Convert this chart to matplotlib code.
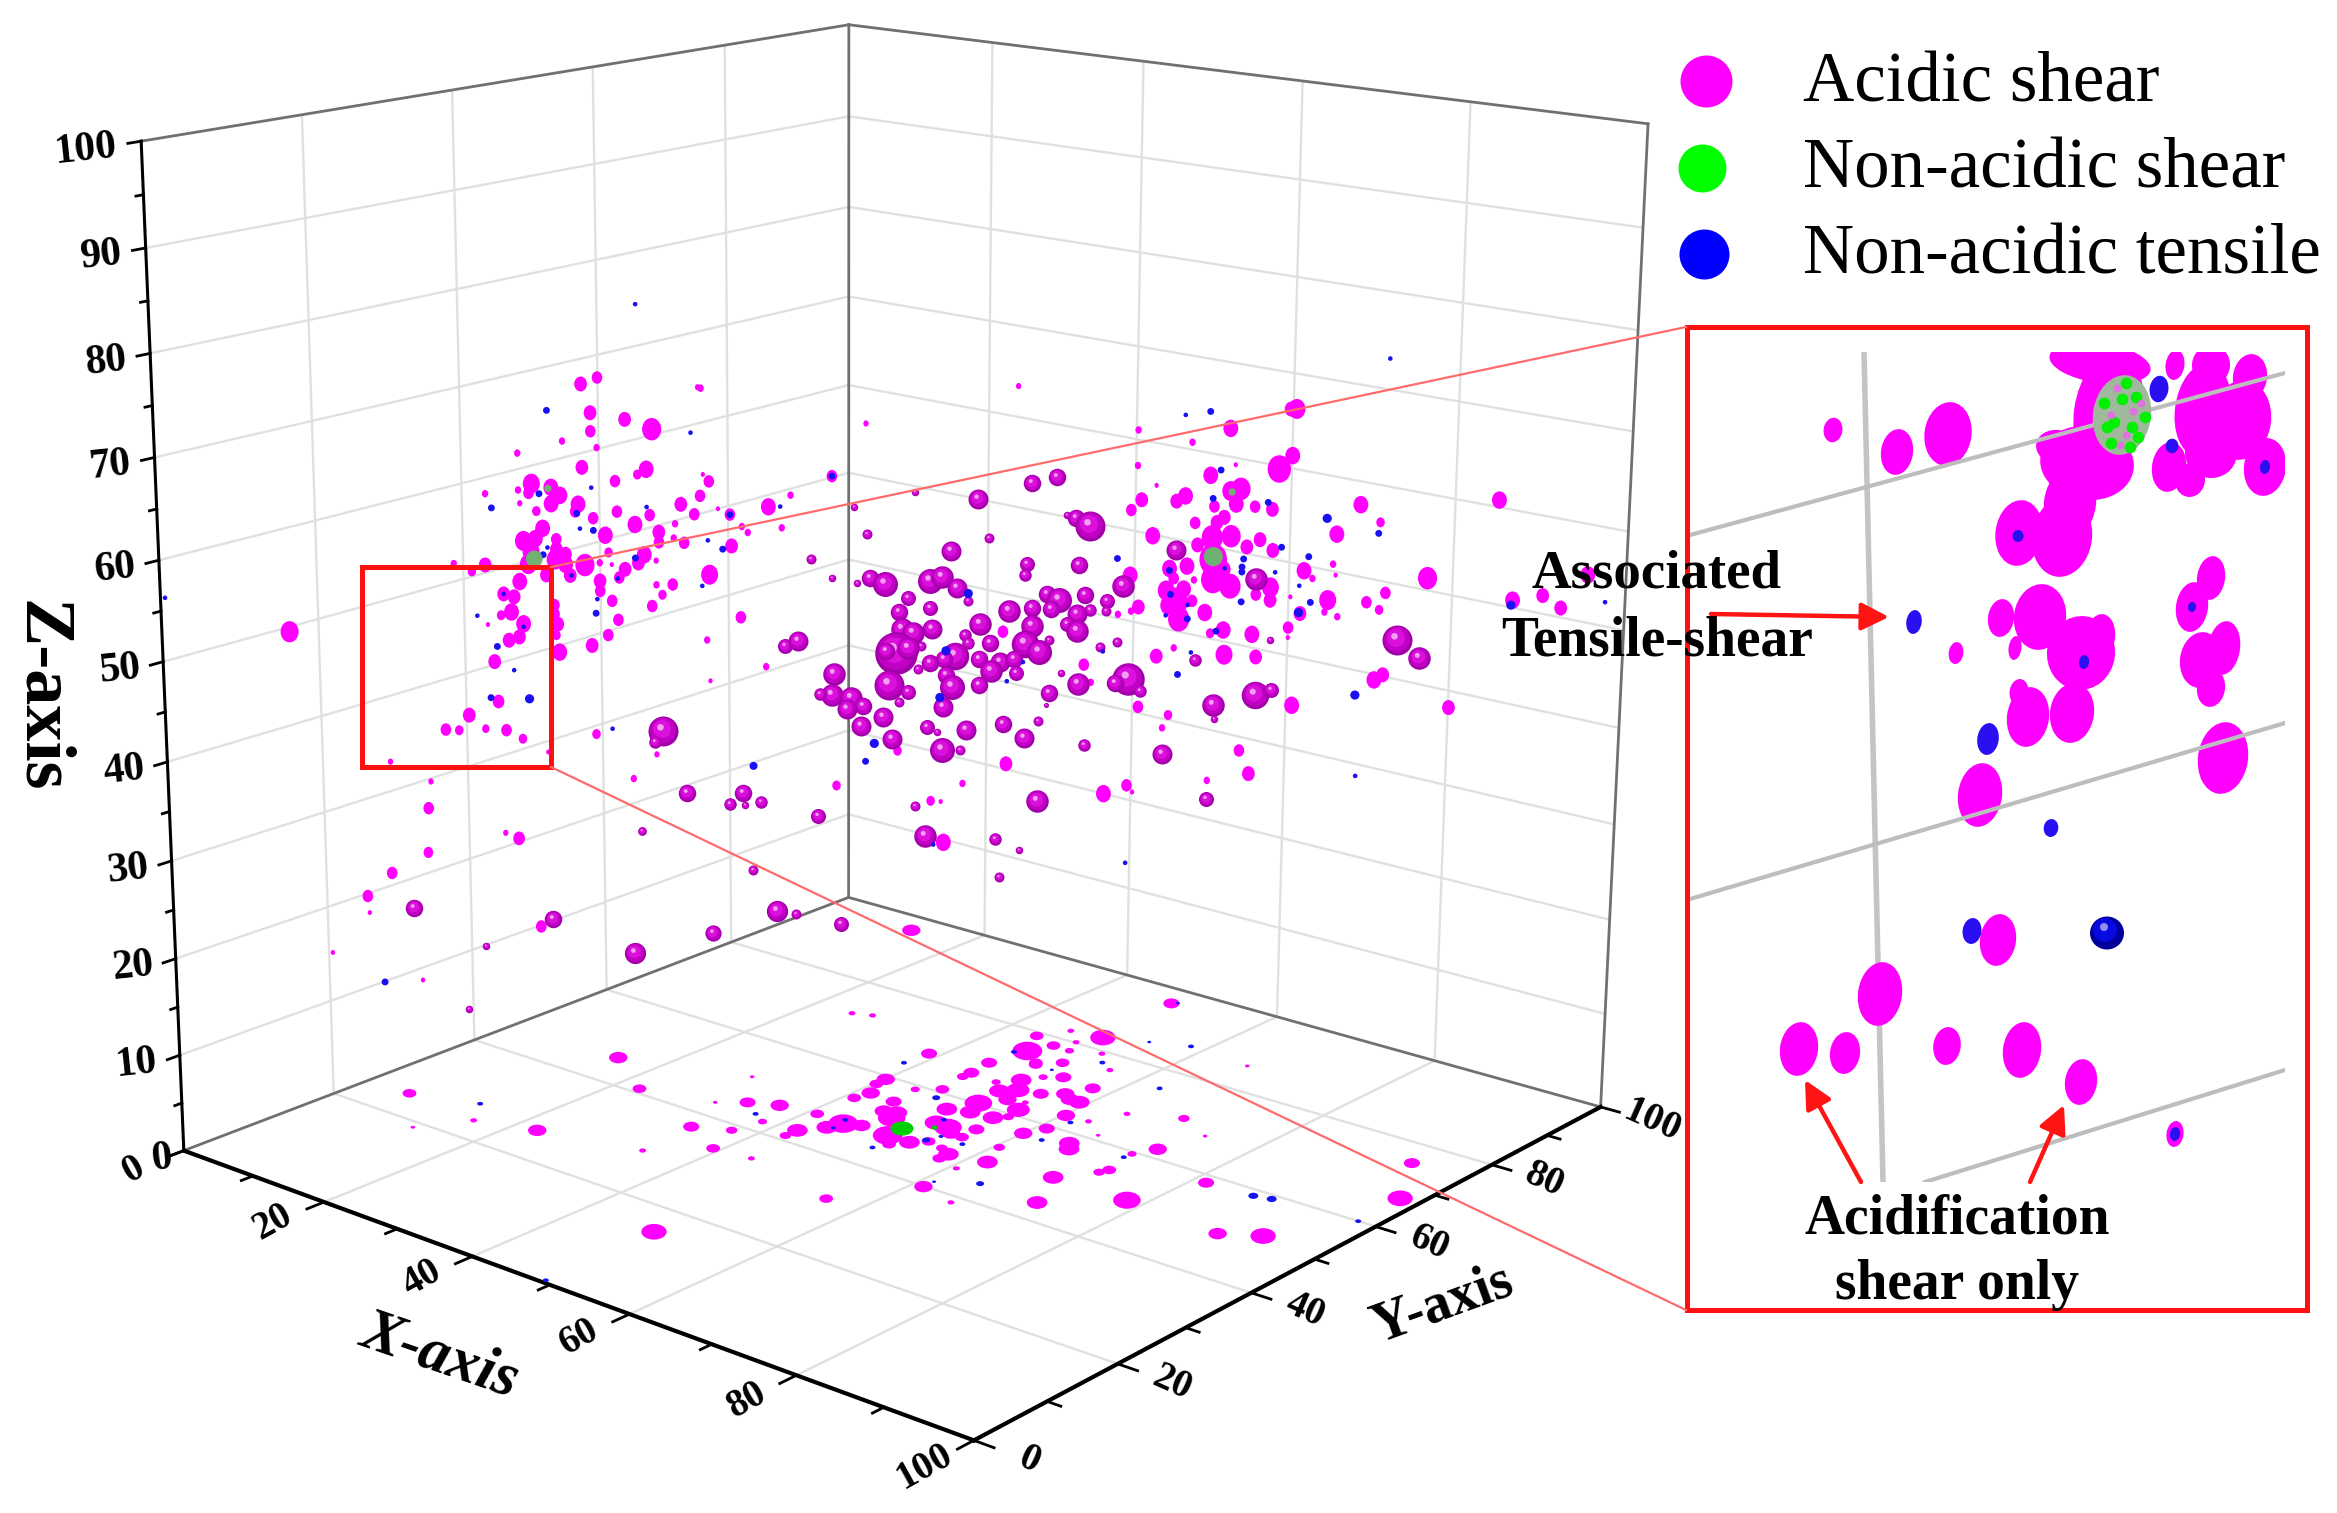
import matplotlib
matplotlib.use('Agg')
import matplotlib.pyplot as plt
from matplotlib.markers import MarkerStyle
from matplotlib.patches import Ellipse, Rectangle
from matplotlib.transforms import Affine2D
from mpl_toolkits.mplot3d import proj3d

W, H = 2337, 1513
SERIF = 'Liberation Serif'

# one view gives no depth, so the events are read on the diagonal plane x = y
# flat magenta events (x, z, marker radius)
flat_x = [8.5,28.3,29.4,28.9,28.9,31.2,33.0,27.0,29.3,24.0,
          28.3,32.6,32.0,30.5,24.9,24.7,26.2,26.8,26.2,24.0,
          21.8,24.1,28.0,27.8,25.2,30.6,34.9,29.0,32.8,31.8,
          35.8,36.2,25.6,25.1,24.3,24.8,26.5,26.5,29.8,33.4,
          33.4,34.5,35.1,34.4,26.4,27.1,27.1,28.4,30.0,32.4,
          32.0,31.1,30.7,29.4,29.4,29.4,30.2,33.2,27.4,25.8,
          24.6,24.0,23.6,22.9,23.4,22.7,24.2,23.9,23.2,22.2,
          26.3,26.3,26.5,26.4,26.6,28.8,29.9,30.6,30.2,32.9,
          33.6,34.3,33.2,20.8,21.7,19.6,21.8,36.3,36.4,
          22.4,20.4,18.8,19.7,21.5,22.9,24.0,25.7,15.0,17.7,
          17.5,17.4,14.9,13.2,13.3,22.7,23.6,29.0,33.1,31.5,
          25.0,10.7,16.8,45.4,45.1,38.2,40.8,42.3,37.4,36.8,
          39.0,39.4,41.7,38.3,36.8,38.9,36.6,40.6,36.8,49.6,
          57.1,56.8,62.4,62.9,66.2,68.3,67.9,65.5,65.9,63.9,
          54.1,67.4,65.5,66.1,65.6,64.7,
          76.7,76.3,72.2,69.6,65.9,65.9,67.2,72.6,70.9,75.6,
          76.5,69.2,68.6,66.2,65.5,67.0,72.3,73.0,72.7,71.2,
          74.0,75.2,71.9,71.4,69.9,71.1,72.4,70.1,73.5,74.4,
          75.3,71.2,69.4,68.2,71.2,72.4,71.9,75.2,74.2,75.2,
          68.5,69.9,68.0,69.2,68.7,68.2,68.9,69.8,70.7,77.5,
          78.1,79.5,79.7,79.2,79.0,79.9,77.3,76.6,81.9,82.8,
          83.2,86.1,81.3,82.7,79.7,90.9,92.1,94.2,95.5,97.3,
          76.5,76.5,74.0,72.0,71.1,72.1,74.3,68.6,76.9,87.9,
          82.6,83.2,73.3,57.7,47.4,36.1,51.9,52.6,71.1,74.0,
          52.8]
flat_z = [52.7,76.4,77.0,73.6,71.8,72.9,71.9,70.9,70.2,69.8,
          68.3,68.0,67.5,66.9,66.8,65.9,66.4,65.6,64.8,66.2,
          65.9,64.9,64.7,64.0,64.1,63.9,64.5,63.3,63.5,62.6,
          63.5,65.3,62.4,61.4,61.2,60.1,61.3,60.3,61.6,61.8,
          60.8,62.6,60.7,61.2,59.3,59.8,58.8,58.7,59.9,59.6,
          58.8,58.2,57.4,58.9,57.1,56.1,58.7,59.0,57.7,57.8,
          58.9,57.2,55.7,56.0,54.2,53.9,53.0,51.7,51.4,49.3,
          54.8,53.9,52.9,51.8,50.1,50.7,51.7,53.2,55.1,54.5,
          55.6,56.6,56.6,58.3,58.9,59.1,53.0,75.8,67.4,
          45.3,44.0,42.6,42.5,42.6,42.4,41.5,40.1,39.5,37.4,
          34.7,30.2,28.2,25.9,24.2,32.0,31.4,41.8,39.6,37.2,
          22.3,20.2,17.1,36.0,67.0,63.4,64.1,65.2,64.0,66.7,
          62.2,61.6,62.0,60.3,57.5,53.2,51.0,48.2,46.9,39.4,
          37.8,51.2,47.7,45.9,43.3,42.4,41.1,35.3,34.6,34.5,
          35.9,48.4,56.6,53.4,53.0,52.7,
          72.8,72.8,71.0,69.7,71.0,67.5,65.5,67.4,66.4,66.9,
          68.2,64.4,63.9,64.1,63.1,60.5,64.8,65.0,63.5,63.3,
          63.2,62.9,62.2,61.7,61.7,60.2,60.3,59.5,59.2,59.9,
          58.8,58.0,57.4,57.2,56.0,55.3,57.0,55.1,54.4,53.8,
          56.2,56.0,55.0,55.1,53.9,53.5,52.1,53.9,52.7,56.7,
          55.9,57.3,56.2,53.7,52.5,52.0,52.4,54.1,53.4,52.6,
          54.3,55.7,63.2,61.4,60.3,63.4,53.3,53.7,52.4,55.7,
          51.0,50.0,50.4,50.9,50.6,48.4,48.1,49.2,43.1,42.5,
          45.5,46.0,38.6,75.5,72.1,75.9,34.2,34.1,35.6,36.2,
          29.9]
flat_r = [8.5,6,5,6,5,6,9,3,3,3,
          6,7,4,5,8,5,7,7,7,3,
          3,2.5,7,5,4,5,6,5,5,7,
          5,5,7,7,8,8,5,6,7,6,
          5,3,5,3,8,6,7,9,4,7,
          6,6,5,3,6,5,2,2.5,6,6,
          8,7,6,6,7,4,7,6,6,6,
          5,5,6,4,7,6,5,5,5,5,
          4,5,3,4,6,3,2,3,2,
          5.5,6,5,4,3.5,5,4,2,2.5,2.5,
          5,4.5,5,5,2,2.5,5.5,4,2.5,3,
          5,2,2,4,5,5,7,3,2,5,
          3,3,3,6,8,5,3,3,2,4,
          6,5,5,3,5,4,3,5,2,7,
          3,6,7,6,3,3,
          8,6,7,3,3,3,2,2,7,11,
          7,7,6,6,5,7,8,9,7,5,
          5,6,6,6,5,10,9,6,6,6,
          6,13,7,7,11,10,7,8,5,6,
          5,3,8,7,11,8,10,5,7,7,
          3,3,2,8,3,3,6,2,5,4,
          5,9,7,4,7,7,7,6,6,7,
          5,2,7,7,4,8,6,3,7,6,
          7,6,5,2.5,2.5,2.5,4,2,3,6,
          7]

# shaded magenta events
ball_x = [33.5,33.0,16.3,25.8,21.2,19.9,32.0,35.1,39.0,38.1,
          40.2,39.1,44.1,39.6,41.3,42.6,31.4,36.8,45.7,58.7,
          60.4,55.0,50.7,46.6,61.7,62.7,61.1,55.8,47.5,53.2,
          43.7,45.1,58.4,58.3,62.0,47.7,48.7,46.8,51.8,52.6,
          53.6,50.3,54.4,51.8,49.7,57.2,58.8,59.8,60.6,60.1,
          62.4,65.0,63.9,63.9,62.8,61.9,61.2,61.9,58.8,55.2,
          51.9,49.9,50.6,54.2,54.4,55.9,58.3,59.3,60.0,64.7,
          63.5,51.2,49.5,48.8,50.3,53.5,52.8,51.8,51.0,55.2,
          56.6,57.6,56.0,57.7,45.2,52.9,53.3,55.2,49.0,50.3,
          45.1,44.3,46.4,47.2,46.1,49.7,48.6,52.7,60.0,62.0,
          65.5,64.6,66.3,60.8,59.8,47.1,51.6,52.3,54.3,56.9,
          59.3,49.2,58.3,52.7,53.9,62.5,67.9,41.9,42.8,70.1,
          68.6,74.2,75.3,84.1,85.7,74.3,75.4,71.4,71.5,59.3,
          50.8,71.1,51.5,56.4,58.1,56.7]
ball_z = [42.0,40.9,24.5,23.0,20.4,14.0,31.8,35.6,35.5,34.4,
          34.5,34.2,32.9,27.5,23.2,22.9,19.3,21.1,21.7,66.0,
          66.5,64.5,65.3,63.9,62.4,61.6,62.7,60.6,61.2,59.4,
          58.9,56.9,57.9,56.8,57.7,56.8,56.2,56.4,56.4,56.8,
          55.7,54.8,54.4,53.7,53.4,53.3,53.5,54.9,54.3,53.4,
          54.7,55.5,54.1,53.1,53.2,52.8,51.8,51.1,51.7,52.0,
          51.6,51.7,51.3,51.0,50.1,50.1,49.9,49.1,50.3,49.9,
          49.5,49.9,49.3,49.5,49.8,48.9,48.6,48.2,47.6,48.5,
          48.2,48.4,47.3,47.0,47.3,47.0,45.7,45.9,46.1,45.3,
          45.2,45.3,44.9,44.0,43.8,44.3,42.9,43.7,44.9,45.8,
          46.1,45.8,44.9,46.9,43.7,42.0,41.7,41.2,41.3,41.9,
          42.1,40.6,40.4,39.4,39.3,39.5,38.4,50.2,50.7,47.9,
          59.0,56.0,49.8,49.5,47.6,44.2,44.7,43.3,41.9,33.9,
          33.7,33.7,30.6,30.1,28.9,26.2]
ball_r = [12,5,7,7,3,3,3.5,7,7,5,
          5,3,6,4,8.5,4,8.5,6.5,6,7,
          7,8,3,3,7,12,3,4,4,8,
          4,3,6,5,7,7,10,3,10,9,
          8,6,4,6,7,9,7,7,10,7,
          7,9,6,4,5,8,6,9,9,9,
          8,9,9,5,5,7,11,10,4,4,
          4,4,17,7,9,11,7,7,4,7,
          8,7,9,6,9,7,10,7,12,6,
          9,5,9,7,8,4,8,8,7,9,
          13,7,5,3,2,8,6,3,8,7,
          4,8,8,10,4,5,8,6,8,5,
          8,9,3,12,9,11,6,9,3,9,
          4,6,9,5,3,4]

# non-acidic tensile events
blue_x = [26,35.6,28.9,25.4,22.2,27.9,32.6,28.1,29,25.9,
          25.6,31.8,27.5,30.6,22.9,29.2,29.1,21.1,24.2,22.4,
          23.5,36.3,21.9,24.5,30.1,39.7,14.2,36.7,37.7,41.6,
          45.1,38.2,64.6,54.4,52.9,58.2,57.1,52.5,48,47.4,
          63.7,69.8,68.9,69.1,70.8,71.6,71.1,74.9,79,82.6,
          75.9,77.8,73.3,73.2,73.2,75.5,72,77.2,68.3,68.2,
          73.2,78,69.5,69.5,68,77.2,71.5,81.3,92,81.5,
          52.1,65.5,0.3,32,83,98.6]
blue_z = [73.9,71.5,66.3,65.8,64.5,63.8,64.3,62.3,62.1,60.5,
          59.8,59.3,57.7,57.3,56,55.3,53.9,53.9,52.7,50.8,
          48.4,56.4,45.7,45.5,42.3,38.2,17,60.9,60,64.1,
          67,63.4,58.3,55.1,49.4,48.1,46.2,44.7,40.2,38.4,
          49,48.7,46.5,72.4,72.7,66.9,64.1,63.6,61.9,60.3,
          59.1,58.1,58,57.2,56.7,56.6,57.1,55.2,54.6,57,
          53.7,53.5,53.5,52.1,52.5,52.5,50.8,44,52.8,35.7,
          29.7,27.3,56.3,84,77.6,52.9]
blue_r = [3,2,2,3,3,3,2,2,3,2,
          3,3,2,2,2,2,3,2,2,3,
          2,2,3,4,2,3.5,3,2,3,2,
          3,3,3,4,4,2,2,4,4,3,
          2,2,3,2,3,3,3,3,4,3,
          3,3,3,3,3,2,2,2,3,3,
          3,3,2,3,2,4,3,4,4,2,
          2,2,2,2,2,2]

# non-acidic shear events
green_x = [25, 26, 71.2, 72.4]
green_z = [59.4, 66.3, 58.3, 64.7]
green_r = [7, 3, 8, 3]

# footprints on the floor, z = 0
floor_x = [48.9,5.8,15,22.7,38.8,22.7,16,12.7,33.7,31.1,
           33.6,36.6,37.4,38.2,29.2,34.3,39.2,43.8,56,42.4,
           42.4,41,44.1,44.7,46.4,41,41.4,40.2,40.1,44.2,
           46.3,44.7,45.6,46.9,47.4,50.1,51.7,52.9,54.2,51.6,
           53.3,54.5,56,50.1,56.3,57.8,57.8,55.8,62,60.7,
           61.2,65.7,69.3,72,78.2,89.6,93.2,97.9,93.8,81.4,
           72.3,71.9,71.5,72.7,65.1,66,60,61,60.5,52.4,
           51.5,55.1,56.1,55.7,53.1,51,52.3,50.8,49.2,54.7,
           55,56.6,57.9,59.1,57.8,53.6,52,49.2,45.2,48.9,
           51,45.6,45.6,56,60.3,64.7,63,69.8,66,74.2,
           66.1,44.1,49.7,45.9,47.2,48.4,49.4,46.1,52.5,12.7,
           24.9,27,49]
floor_y = [15.1,25,46,41,67.7,26.2,24,18.8,36.8,43.2,
           45.3,46.8,38.7,42.4,50.9,29.1,34,34.5,31.6,41.1,
           42.9,47.5,45.4,47.2,48,53.2,55.3,57.6,59.2,59,
           60.8,55,52.4,52.9,51.5,47.7,46,47.7,49.1,53.4,
           53.2,52.2,52.1,56.9,48.6,47.8,46.4,54.6,48.7,45.5,
           39.9,38.6,49.8,43.9,49.9,49,51.3,67.2,75.3,58.3,
           54.8,53.7,59.5,62.1,57.7,56.5,56.8,59.3,52.4,57.8,
           60.2,58.1,59.3,61.4,62.9,64.2,65.6,68,65.9,66.3,
           63.4,67.9,67,67,70.9,71.4,70.1,72.4,69.7,72.8,
           74.6,64.9,66.3,76.1,63.3,67.6,63.5,70.3,61.2,67.9,
           86.2,79,83.1,82.5,77.9,80.2,77.8,74.9,79.3,96,
           71.6,72.5,96]
floor_r = [11,6,8,6,7,8,3,2,7,2,
           7,8,5,4,2,3,6,3,6,5,
           9,6,9,13,8,6,8,6,8,4,
           6,7,8,9,12,13,6,9,6,10,
           12,8,6,9,5,9,6,7,9,3,
           8,3,9,9,12,8,11,11,7,7,
           6,5,4,8,9,9,8,7,5,9,
           12,9,5,10,8,9,10,9,4,7,
           3,8,8,9,7,7,4,6,7,6,
           6,5,7,3,8,3,3,5,2,2,
           2,6,11,3,6,3,4,13,3,8,
           3,3,7]
floor_blue_x = [13.3,36.3,47.3,44.7,44.2,51.7,54.3,53.8,51,57.2,
                61.8,51.4,63,71.4,64.9,61.2,62.5,86.8,88.6,98,
                49,38.5,45.2,54.1,54.2,58.3,49.5]
floor_blue_y = [27.6,43.5,58.6,45.7,48.1,54.5,50.9,49.2,44.3,50.7,
                62.1,72.3,75.3,58.3,44,41.5,56.6,58.6,59.1,60,
                0.5,64,73.8,77.3,85.2,87,96.5]
floor_blue_r = [3,3,4,2.5,3,3,2.5,4,3,3,
                3,2,3,3,4,2,3,5,5,3,
                3,3,3,3,2,3,2]
floor_green_x = [50, 52.3]
floor_green_y = [50, 52.3]
floor_green_r = [10, 3]

# enlarged view: centre x, centre y, half width, half height
zoom_x = [147,211,262,414,423,401,371,384,376,333,
          517,525,564,555,525,483,504,579,489,
          354,315,329,395,414,386,342,333,
          525,506,538,515,525,270,537,294,
          312,194,113,159,261,336,395,489]
zoom_y = [103,125,107,36,86,136,120,176,210,206,
          83,38,50,93,126,140,153,140,38,
          290,291,321,326,310,386,390,365,
          251,280,321,333,361,326,431,468,
          613,667,722,726,719,723,755,807]
zoom_w = [9.4,16,23.5,51,35,47,21,26,30,23.5,
          28,19,17,30,26,17,15,21,9.4,
          26,13,6.4,34,15,22,21,9.4,
          14,16,16,21,14,7.3,25,22,
          18,22,19,15,13.7,19,16,8.5]
zoom_h = [12.3,23,32,20,60,37,17,37,40,33,
          47,20,23,40,25,25,17,29,15,
          33,19,12,37,23,30,30,13,
          22,25,27,28,19,11,36,32,
          26,32,27,21,19,28,23,13]
zoom_blue_x = [473,486,579,332,398,506,228,302,365,286,489]
zoom_blue_y = [62,119,140,209,335,280,295,412,501,604,807]
zoom_blue_w = [9.4,6.4,5,5.5,5,4,7.7,10.7,7.3,9.4,5]
zoom_blue_h = [13.3,7.3,7,6,7,5,12,16,9,13,7]
zoom_green_x = [418,450,425,444,459,440,428,446,436,421,452]
zoom_green_y = [76,70,116,120,90,56,95,100,72,100,110]
zoom_spot_x = [431,440,455,425,447,434]
zoom_spot_y = [61,108,76,88,84,118]

ticks = [20, 40, 60, 80]
z_ticks = [10, 20, 30, 40, 50, 60, 70, 80, 90]
tick_labels_xy = [0, 20, 40, 60, 80, 100]
tick_labels_z = [0, 10, 20, 30, 40, 50, 60, 70, 80, 90, 100]
legend_names = ['Acidic shear', 'Non-acidic shear', 'Non-acidic tensile']
legend_colors = ['#FF00FF', '#00FF00', '#0000FF']


def size(r, k=1.0):
    return (1.44 * r * k) ** 2


fig = plt.figure(figsize=(W / 100, H / 100), dpi=100)
L = 1741.97
ax = fig.add_axes([9.18 / W, -27.3 / H, L / W, L / H], projection='3d', computed_zorder=False)
ax.set_xlim(0, 100, view_margin=0)
ax.set_ylim(0, 100, view_margin=0)
ax.set_zlim(0, 100, view_margin=0)
ax.view_init(15.841, -50.1427, -0.2103)
ax.set_proj_type('persp', focal_length=0.4863)
ax.set_box_aspect((1, 1.0043, 0.9999))
ax.set_axis_off()

grid = dict(color='#E0E0E0', lw=1.7, solid_capstyle='butt', zorder=1)
for t in ticks:
    ax.plot([t, t], [0, 100], [0, 0], **grid)
    ax.plot([0, 100], [t, t], [0, 0], **grid)
    ax.plot([0, 0], [t, t], [0, 100], **grid)
    ax.plot([t, t], [100, 100], [0, 100], **grid)
for t in z_ticks:
    ax.plot([0, 0], [0, 100], [t, t], **grid)
    ax.plot([0, 100], [100, 100], [t, t], **grid)

frame = dict(color='#707070', lw=2, zorder=2)
ax.plot([0, 0], [0, 100], [0, 0], **frame)
ax.plot([0, 100], [100, 100], [0, 0], **frame)
ax.plot([0, 0], [100, 100], [0, 100], **frame)
ax.plot([0, 0], [0, 100], [100, 100], **frame)
ax.plot([0, 100], [100, 100], [100, 100], **frame)
ax.plot([100, 100], [100, 100], [0, 100], **frame)
axis = dict(color='black', lw=3, zorder=3)
ax.plot([0, 100], [0, 0], [0, 0], **axis)
ax.plot([100, 100], [0, 100], [0, 0], **axis)
ax.plot([0, 0], [0, 0], [0, 100], color='black', lw=2.2, zorder=3)

tick = dict(color='black', lw=2, zorder=3)
for t in range(0, 101, 10):
    n = 2.2 if t % 20 == 0 else 1.5
    ax.plot([t, t], [0, -n], [0, 0], **tick)
    ax.plot([100, 100 + n], [t, t], [0, 0], **tick)
for t in range(0, 101, 5):
    n = 1.6 if t % 10 == 0 else 0.9
    ax.plot([0, 0], [0, -n], [t, t], **tick)

# floor footprints
wide = MarkerStyle('o', transform=Affine2D().scale(1, 0.62))
ax.scatter(floor_x, floor_y, [0] * len(floor_x), s=[size(r, 1.15) for r in floor_r], c='#FF00FF',
           marker=wide, linewidths=0, depthshade=False, zorder=5)
ax.scatter(floor_blue_x, floor_blue_y, [0] * len(floor_blue_x), s=[size(r) for r in floor_blue_r],
           c='#1414F0', marker=wide, linewidths=0, depthshade=False, zorder=6)
ax.scatter(floor_green_x, floor_green_y, [0] * len(floor_green_x), s=[size(r, 1.15) for r in floor_green_r],
           c='#00D000', marker=wide, linewidths=0, depthshade=False, zorder=7)

# flat events
tall = MarkerStyle('o', transform=Affine2D().scale(0.85, 1))
ax.scatter(flat_x, flat_x, flat_z, s=[size(r, 1.25) for r in flat_r], c='#FF00FF', marker=tall,
           linewidths=0, depthshade=False, zorder=8)

# shaded events
layers = [(1.0, 0.0, 0.0, '#A000A8'), (0.85, -0.02, 0.04, '#C000C4'),
          (0.6, -0.05, 0.08, '#DC10DC'), (0.22, -0.1, 0.14, '#F2A0F2')]
order = 9
for x, z, r in zip(ball_x, ball_z, ball_r):
    for scale, dx, dy, color in layers:
        m = MarkerStyle('o', transform=Affine2D().scale(scale).translate(dx, dy))
        ax.scatter([x], [x], [z], s=size(r, 1.25), c=color, marker=m, linewidths=0,
                   depthshade=False, zorder=order)
        order += 1

ax.scatter(blue_x, blue_x, blue_z, s=[size(r, 1.15) for r in blue_r], c='#1A10F0', linewidths=0,
           depthshade=False, zorder=order)
ax.scatter(green_x, green_x, green_z, s=[size(r, 1.2) for r in green_r], c='#70B070', linewidths=0,
           depthshade=False, zorder=order + 1)

# enlarged view on the right
inset = fig.add_axes([1690 / W, 1 - 1182 / H, 595 / W, 830 / H], zorder=4)
inset.set_xlim(4, 599)
inset.set_ylim(855, 25)
inset.axis('off')
inset.add_patch(Rectangle((-100, -100), 900, 1100, color='white', zorder=0))
inset.plot([178, 197], [25, 855], color='#C4C4C4', lw=4, zorder=1)
inset.plot([4, 599], [208, 46], color='#BDBDBD', lw=3, zorder=3)
inset.plot([4, 599], [572, 396], color='#BDBDBD', lw=3, zorder=3)
inset.plot([239, 599], [855, 743], color='#BDBDBD', lw=3, zorder=3)
for x, y, w, h in zip(zoom_x, zoom_y, zoom_w, zoom_h):
    inset.add_patch(Ellipse((x, y), 2 * w, 2 * h, angle=8, color='#FF00FF', lw=0, zorder=2))
inset.add_patch(Ellipse((436, 88), 58, 80, angle=8, color='#A0B89C', lw=0, zorder=4))
inset.scatter(zoom_green_x, zoom_green_y, s=70, c='#00F000', linewidths=0, zorder=5)
inset.scatter(zoom_spot_x, zoom_spot_y, s=30, c='#E070E0', linewidths=0, zorder=5)
for x, y, w, h in zip(zoom_blue_x, zoom_blue_y, zoom_blue_w, zoom_blue_h):
    inset.add_patch(Ellipse((x, y), 2 * w, 2 * h, angle=8, color='#2A10F0', lw=0, zorder=4))
inset.add_patch(Ellipse((421, 606), 34, 33, color='#00009A', lw=0, zorder=4))
inset.add_patch(Ellipse((419, 603), 24, 24, color='#0808E0', lw=0, zorder=5))
inset.add_patch(Ellipse((418, 600), 8, 8, color='#9090F0', lw=0, zorder=6))

# callouts, labels and legend in picture pixels
over = fig.add_axes([0, 0, 1, 1], zorder=5)
over.set_xlim(0, W)
over.set_ylim(H, 0)
over.axis('off')
over.plot([551, 1686], [567, 327], color='#FF6A6A', lw=1.6)
over.plot([551, 1686], [767, 1310], color='#FF6A6A', lw=1.6)
over.add_patch(Rectangle((362, 567), 189, 200, fill=False, ec='#FF1010', lw=3.6))
over.add_patch(Rectangle((1687, 327), 620, 983, fill=False, ec='#FF1010', lw=3.6))


def to_pixels(x, y, z):
    vx, vy, _ = proj3d.proj_transform(x, y, z, ax.get_proj())
    return over.transData.inverted().transform(ax.transData.transform((vx, vy)))


bold = dict(family=SERIF, weight='bold', ha='center', va='center', color='black')
for t in tick_labels_xy:
    px, py = to_pixels(t, -6.5, 0)
    over.text(px, py, str(t), fontsize=28, rotation=29, **bold)
    px, py = to_pixels(106, t, 0)
    over.text(px, py, str(t), fontsize=28, rotation=-24, **bold)
for t in tick_labels_z:
    px, py = to_pixels(-1.6, -1.6, t)
    shift = 14 if t == 0 else 3
    over.text(px + shift, py + 8, str(t), family=SERIF, weight='bold', ha='right', va='center',
              fontsize=30, rotation=6, color='black')

arrow = dict(arrowstyle='-|>', color='#FF1414', lw=3.2, mutation_scale=42, shrinkA=0, shrinkB=0)
over.annotate('', xy=(1889, 617), xytext=(1711, 614), arrowprops=arrow)
over.annotate('', xy=(1805, 1080), xytext=(1861, 1182), arrowprops=arrow)
over.annotate('', xy=(2064, 1105), xytext=(2030, 1182), arrowprops=arrow)

over.text(1657, 575, 'Associated', fontsize=39.5, **bold)
over.text(1657, 641, 'Tensile-shear', fontsize=40, **bold)
over.text(1957, 1219, 'Acidification', fontsize=40, **bold)
over.text(1957, 1285, 'shear only', fontsize=40, **bold)
over.text(40, 696, 'Z-axis', fontsize=52, rotation=270, **bold)
over.text(440, 1356, 'X-axis', fontsize=44, rotation=-19, style='italic', **bold)
over.text(1443, 1304, 'Y-axis', fontsize=40, rotation=20, **bold)

for name, color, mx, my, ty, r in zip(legend_names, legend_colors, [1706, 1702, 1704],
                                      [81, 168, 254], [84, 170, 256], [26, 24, 25]):
    over.scatter([mx], [my], s=size(r), c=color, linewidths=0)
    over.text(1803, ty, name, family=SERIF, fontsize=51, ha='left', va='center', color='black')

fig.savefig('out.png', dpi=100)
